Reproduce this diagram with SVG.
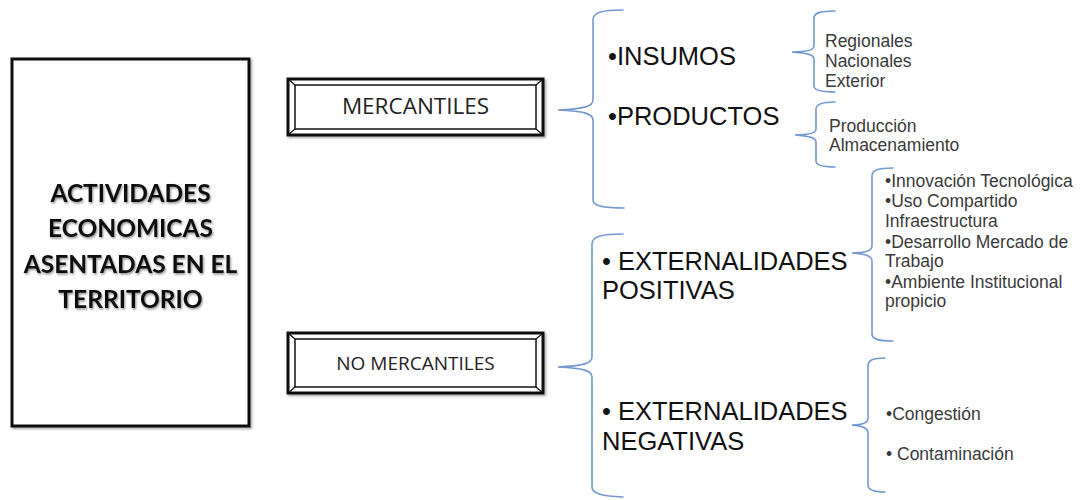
<svg xmlns="http://www.w3.org/2000/svg" width="1081" height="500" viewBox="0 0 1081 500">
<defs>
<filter id="shadow" x="-10%" y="-10%" width="120%" height="120%">
<feDropShadow dx="1.5" dy="1.5" stdDeviation="1.2" flood-color="#000" flood-opacity="0.35"/>
</filter>
<filter id="tshadow" x="-10%" y="-20%" width="120%" height="140%">
<feDropShadow dx="1" dy="1.5" stdDeviation="1.2" flood-color="#000" flood-opacity="0.45"/>
</filter>
</defs>
<style>
.brace{fill:none;stroke:#7399d0;stroke-width:1.6;stroke-linecap:round}
.title{font-family:Lato,"Open Sans",sans-serif;font-weight:bold;font-size:24.5px;fill:#111;text-anchor:middle}
.boxtxt{font-family:"Open Sans","Liberation Sans",sans-serif;fill:#222;text-anchor:middle}
.big{font-family:"Liberation Sans",Arial,sans-serif;font-size:25.5px;fill:#111}
.small{font-family:"Liberation Sans",Arial,sans-serif;font-size:17.5px;fill:#3a3a3a}
.outer{fill:#fff;stroke:#111;stroke-width:3}
.inner{fill:#fff;stroke:#111;stroke-width:1.5}
.bev{stroke:#111;stroke-width:1.2}
</style>
<rect width="1081" height="500" fill="#fff"/>

<g id="actividades">
<rect x="12" y="59" width="237" height="367" fill="#fff" stroke="#111" stroke-width="3" filter="url(#shadow)"/>
<g filter="url(#tshadow)">
<text class="title" x="130.5" y="202">ACTIVIDADES</text>
<text class="title" x="130.5" y="237">ECONOMICAS</text>
<text class="title" x="130.5" y="273">ASENTADAS EN EL</text>
<text class="title" x="130.5" y="308">TERRITORIO</text>
</g>
</g>

<g id="mercantiles">
<rect class="outer" x="288" y="79" width="255" height="56" filter="url(#shadow)"/>
<rect class="inner" x="295" y="85" width="241" height="44"/>
<line class="bev" x1="288" y1="79" x2="295" y2="85"/>
<line class="bev" x1="543" y1="79" x2="536" y2="85"/>
<line class="bev" x1="288" y1="135" x2="295" y2="129"/>
<line class="bev" x1="543" y1="135" x2="536" y2="129"/>
<text class="boxtxt" x="415.5" y="114" font-size="22.5">MERCANTILES</text>
</g>

<g id="no-mercantiles">
<rect class="outer" x="288" y="333" width="255" height="60" filter="url(#shadow)"/>
<rect class="inner" x="295" y="339" width="241" height="48"/>
<line class="bev" x1="288" y1="333" x2="295" y2="339"/>
<line class="bev" x1="543" y1="333" x2="536" y2="339"/>
<line class="bev" x1="288" y1="393" x2="295" y2="387"/>
<line class="bev" x1="543" y1="393" x2="536" y2="387"/>
<text class="boxtxt" x="415.5" y="370" font-size="19">NO MERCANTILES</text>
</g>

<g id="insumos"><text class="big" x="608" y="65">•INSUMOS</text></g>
<g id="productos"><text class="big" x="608" y="125">•PRODUCTOS</text></g>
<g id="ext-positivas"><text class="big" x="602" y="270">• EXTERNALIDADES</text><text class="big" x="602" y="299">POSITIVAS</text></g>
<g id="ext-negativas"><text class="big" x="602" y="420">• EXTERNALIDADES</text><text class="big" x="602" y="450">NEGATIVAS</text></g>

<g id="insumos-list">
<text class="small" x="825" y="47">Regionales</text>
<text class="small" x="825" y="67">Nacionales</text>
<text class="small" x="825" y="87">Exterior</text>
</g>
<g id="productos-list">
<text class="small" x="829" y="132">Producción</text>
<text class="small" x="829" y="151">Almacenamiento</text>
</g>
<g id="positivas-list">
<text class="small" x="885" y="187">•Innovación Tecnológica</text>
<text class="small" x="885" y="207">•Uso Compartido</text>
<text class="small" x="885" y="227">Infraestructura</text>
<text class="small" x="885" y="248">•Desarrollo Mercado de</text>
<text class="small" x="885" y="267">Trabajo</text>
<text class="small" x="885" y="288">•Ambiente Institucional</text>
<text class="small" x="885" y="307">propicio</text>
</g>
<g id="negativas-list">
<text class="small" x="886" y="420">•Congestión</text>
<text class="small" x="886" y="460">• Contaminación</text>
</g>

<g id="connectors">
<path class="brace" d="M623,10 C603,10 593,12 593,20 L593,100 C593,106 585,109 558,110 C585,111 593,114 593,120 L593,200 C593,206 603,208 624,208"/>
<path class="brace" d="M623,234 C603,234 592,236 592,244 L592,357 C592,363 584,366 558,367 C584,368 592,371 592,377 L592,487 C592,494 603,496 623,497"/>
<path class="brace" d="M835,11 C820,11 814,13 814,18 L814,46 C814,50 808,52 792,52 C808,53 814,55 814,59 L814,86 C814,90 820,92 835,92"/>
<path class="brace" d="M835,102 C822,102 816,104 816,109 L816,129 C816,133 810,135 795,135 C810,136 816,138 816,142 L816,161 C816,165 822,167 835,167"/>
<path class="brace" d="M893,168 C878,168 872,170 872,176 L872,246 C872,251 866,253 852,253 C866,254 872,256 872,261 L872,334 C872,339 878,341 893,341"/>
<path class="brace" d="M885,358 C873,358 868,360 868,366 L868,418 C868,423 863,425 852,425 C863,426 868,428 868,433 L868,485 C868,490 873,492 885,492"/>
</g>
</svg>
